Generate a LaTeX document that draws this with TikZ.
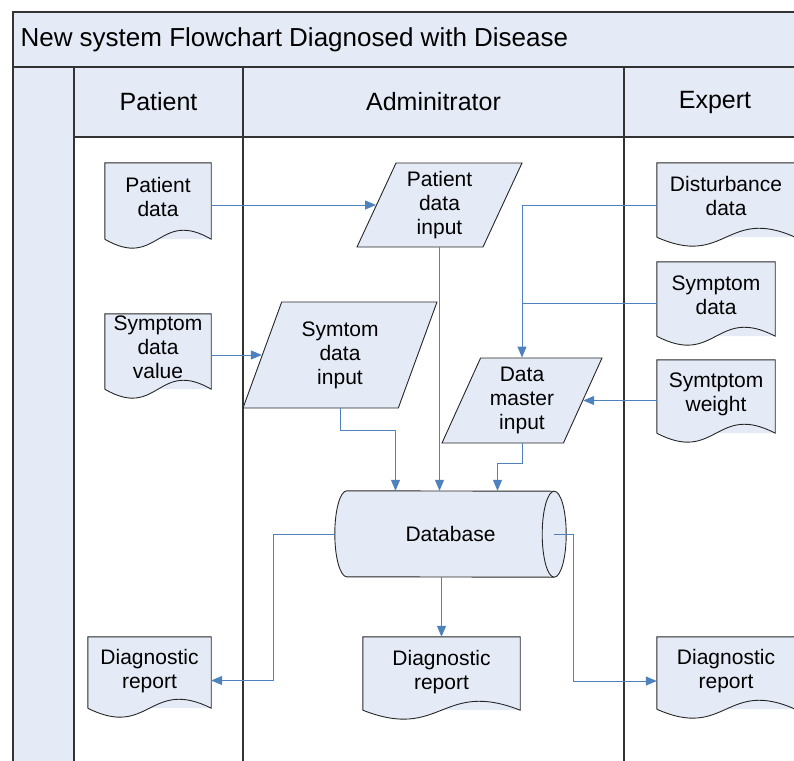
\documentclass[tikz,border=0pt]{standalone}
\usepackage{fontspec}
\setmainfont{Liberation Sans}
\usetikzlibrary{shapes.geometric,arrows.meta,calc}
\definecolor{shapefill}{RGB}{229,235,246}
\definecolor{flowblue}{RGB}{79,129,189}
\tikzset{
  lane/.style={draw=black!80,line width=1.2pt},
  shapeline/.style={draw=black!85,line width=0.9pt},
  box/.style={font=\fontsize{21}{24}\selectfont,align=center,inner sep=0pt},
  docbox/.style={box,fill=shapefill,text depth=8pt},
  inbox/.style={box,trapezium,trapezium left angle=60,trapezium right angle=120,
    trapezium stretches body=true,shapeline,fill=shapefill},
  flow/.style={draw=flowblue,line width=1pt,-{Triangle[length=11pt,width=9pt]}},
  feed/.style={draw=flowblue,line width=1pt}
}
\begin{document}
\begin{tikzpicture}[x=1pt,y=-1pt]
\useasboundingbox (0,0) rectangle (794,760);
\begin{scope}
\clip (0,0) rectangle (794,760);
\draw[lane,fill=shapefill] (13,12) rectangle (810,67);
\draw[lane,fill=shapefill] (13,67) rectangle (74,770);
\draw[lane,fill=shapefill] (74,67) rectangle (810,137);
\draw[lane] (74,137) -- (74,770);
\draw[lane] (243,67) -- (243,770);
\draw[lane] (624,67) -- (624,770);
\end{scope}
\node[anchor=west,font=\fontsize{26}{30}\selectfont] (title) at (17,40) {New system Flowchart Diagnosed with Disease};
\node[font=\fontsize{25}{30}\selectfont] (hpat) at (158.5,102) {Patient};
\node[font=\fontsize{25}{30}\selectfont] (hadm) at (433.5,102) {Adminitrator};
\node[font=\fontsize{25}{30}\selectfont] (hexp) at (715,102) {Expert};

\node[docbox,minimum width=106pt,minimum height=76pt] (pdata) at (158,201) {Patient\\data};
\node[docbox,minimum width=106pt,minimum height=75pt] (sval) at (158,351.5) {Symptom\\data\\value};
\node[docbox,minimum width=123pt,minimum height=71pt] (dleft) at (149.5,672.5) {Diagnostic\\report};
\node[docbox,minimum width=157pt,minimum height=73pt] (dmid) at (441.5,673.5) {Diagnostic\\report};
\node[docbox,minimum width=138pt,minimum height=72pt] (dright) at (726,673) {Diagnostic\\report};
\node[docbox,minimum width=138pt,minimum height=74pt] (dist) at (726,200) {Disturbance\\data};
\node[docbox,minimum width=118pt,minimum height=74pt] (sdata) at (716,299) {Symptom\\data};
\node[docbox,minimum width=118pt,minimum height=73pt] (sweight) at (716,396.5) {Symtptom\\weight};
\foreach \d in {pdata,sval,dleft,dmid,dright,dist,sdata,sweight}{
  \fill[shapefill] (\d.south east) .. controls ($(\d.south)+(0,-31)$) and ($(\d.south)+(0,31)$) .. (\d.south west) -- cycle;
  \draw[shapeline] (\d.south west) -- (\d.north west) -- (\d.north east) -- (\d.south east)
    .. controls ($(\d.south)+(0,-31)$) and ($(\d.south)+(0,31)$) .. (\d.south west);
}

\node[inbox,minimum width=165pt,minimum height=84pt] (pin) at (439.5,205) {Patient\\data\\input};
\node[inbox,minimum width=194pt,minimum height=106pt,inner xsep=-3pt] (sin) at (340,355) {Symtom\\data\\input};
\node[inbox,minimum width=160pt,minimum height=85pt,inner xsep=-1pt] (dm) at (522,400.5) {Data\\master\\input};

\node[box,fill=shapefill,minimum width=207pt,minimum height=86pt] (db) at (450.5,534) {Database};
\fill[shapefill] (db.north west) arc[start angle=90,end angle=270,x radius=12pt,y radius=43pt] -- cycle;
\fill[shapefill] (db.south east) arc[start angle=-90,end angle=90,x radius=12pt,y radius=43pt] -- cycle;
\draw[shapeline] (db.north west) arc[start angle=90,end angle=270,x radius=12pt,y radius=43pt]
  -- (db.south east) arc[start angle=-90,end angle=90,x radius=12pt,y radius=43pt] -- cycle;
\draw[shapeline] (db.south east) arc[start angle=270,end angle=90,x radius=12pt,y radius=43pt];

\draw[flow] (pdata.east |- pin.west) -- (pin.west);
\draw[flow] (sval.east |- sin.west) -- (sin.west);
\draw[flow] ([yshift=-5pt]dist.west) -| (dm |- dm.north);
\draw[feed] ([yshift=-4pt]sdata.west) -- ([yshift=-4pt]sdata.west -| dm);
\draw[flow] (sweight.west |- dm.east) -- (dm.east);
\draw[flow] (pin |- pin.south) -- (pin |- db.north);
\draw[flow] (sin |- sin.south) -- ++(0,22) -| ([xshift=-55pt]db.north);
\draw[flow] (dm |- dm.south) -- ++(0,20) -| ([xshift=47pt]db.north);
\draw[flow] ([xshift=-12pt]db.west) -- ++(-61,0) |- ([yshift=-8pt]dleft.east);
\draw[flow] (dmid |- db.south) -- (dmid.north);
\draw[flow] (db.east) -- ++(19,0) |- ([yshift=-8pt]dright.west);
\end{tikzpicture}
\end{document}
